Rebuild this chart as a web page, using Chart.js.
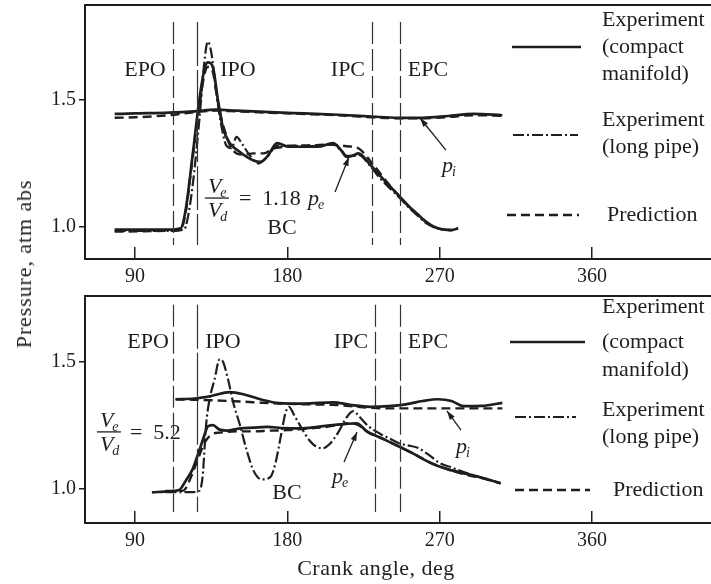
<!DOCTYPE html>
<html><head><meta charset="utf-8">
<script src="https://cdn.jsdelivr.net/npm/chart.js@4.4.1/dist/chart.umd.min.js"></script>
<style>
html,body{margin:0;padding:0;background:#fff;width:711px;height:584px;overflow:hidden;font-family:"Liberation Serif",serif;color:#222}
#c1{position:absolute;left:0;top:0}
#c2{position:absolute;left:0;top:290px}
#ytitle{position:absolute;left:24px;top:264px;transform:translate(-50%,-50%) rotate(-90deg);white-space:nowrap;font-size:22px;letter-spacing:0.9px}
#xtitle{position:absolute;left:376px;top:568px;transform:translate(-50%,-50%);white-space:nowrap;font-size:22px;letter-spacing:0.5px}
</style></head>
<body>
<canvas id="c1" width="711" height="290"></canvas>
<canvas id="c2" width="711" height="294"></canvas>
<div id="ytitle">Pressure, atm abs</div>
<div id="xtitle">Crank angle, deg</div>
<script>
// ---------- data (crank angle in deg, pressure in atm abs) ----------
const xTicks = [90, 180, 270, 360];
const yTicks = [1.0, 1.5];

// Top panel: Ve/Vd = 1.18
const topPiAngles      = [78, 90, 110, 125, 138, 150, 170, 190, 210, 230, 245, 260, 275, 290, 307];
const topPiCompact     = [1.445, 1.447, 1.45, 1.455, 1.462, 1.458, 1.452, 1.447, 1.442, 1.435, 1.43, 1.43, 1.437, 1.445, 1.44];
const topPiPredicted   = [1.43, 1.432, 1.44, 1.452, 1.458, 1.455, 1.45, 1.445, 1.44, 1.432, 1.428, 1.428, 1.433, 1.44, 1.438];

const topPeAngles      = [78, 95, 110, 117, 120, 124, 128, 131, 133, 136, 139, 142, 146, 151, 156, 160, 164, 168, 174, 181, 190, 198, 207, 212, 215, 219, 222, 229, 235, 241, 247, 252, 257, 262, 267, 272, 277, 281];
const topPeCompact     = [0.99, 0.99, 0.99, 0.995, 1.07, 1.28, 1.50, 1.62, 1.648, 1.63, 1.50, 1.39, 1.33, 1.30, 1.276, 1.262, 1.256, 1.276, 1.33, 1.316, 1.316, 1.316, 1.33, 1.30, 1.276, 1.282, 1.29, 1.245, 1.20, 1.158, 1.115, 1.08, 1.05, 1.02, 1.0, 0.99, 0.988, 0.995];
const topPeLongAngles  = [78, 95, 110, 119, 121, 124, 128, 131, 133, 135, 138, 141, 144, 147, 150, 153, 158, 163, 168, 174, 181, 190, 198, 207, 212, 215, 219, 222, 229, 235, 241, 247, 252, 257, 262, 267, 272, 277, 281];
const topPeLongPipe    = [0.985, 0.985, 0.985, 0.99, 1.03, 1.16, 1.42, 1.65, 1.73, 1.69, 1.53, 1.40, 1.32, 1.31, 1.355, 1.33, 1.28, 1.25, 1.275, 1.32, 1.32, 1.318, 1.32, 1.325, 1.30, 1.28, 1.28, 1.285, 1.24, 1.19, 1.15, 1.11, 1.075, 1.045, 1.015, 0.998, 0.99, 0.988, 0.995];
const topPeAnglesPred  = [78, 95, 110, 117, 120, 124, 128, 131, 133, 136, 139, 143, 148, 154, 160, 166, 172, 178, 186, 195, 205, 215, 222, 229, 235, 241, 247, 252, 257, 262, 267, 272, 277];
const topPePredicted   = [0.982, 0.983, 0.985, 0.99, 1.06, 1.27, 1.47, 1.60, 1.63, 1.61, 1.49, 1.38, 1.30, 1.285, 1.29, 1.29, 1.31, 1.315, 1.32, 1.322, 1.325, 1.318, 1.31, 1.26, 1.21, 1.16, 1.115, 1.08, 1.05, 1.02, 1.0, 0.99, 0.988];

// Bottom panel: Ve/Vd = 5.2
const botPiAngles      = [114, 125, 135, 146, 155, 165, 175, 190, 207, 217, 229, 240, 250, 260, 269, 277, 284, 295, 307];
const botPiCompact     = [1.352, 1.355, 1.365, 1.38, 1.37, 1.35, 1.337, 1.335, 1.34, 1.33, 1.322, 1.325, 1.332, 1.345, 1.352, 1.345, 1.325, 1.326, 1.338];
const botPiPredicted   = [1.352, 1.35, 1.348, 1.345, 1.342, 1.338, 1.335, 1.332, 1.33, 1.325, 1.318, 1.316, 1.316, 1.316, 1.316, 1.316, 1.316, 1.316, 1.316];

const botPeAngles      = [100, 110, 116, 120, 124, 128, 131, 133, 136, 140, 145, 152, 160, 168, 178, 188, 198, 207, 215, 221, 227, 235, 246, 255, 265, 275, 286, 296, 306];
const botPeCompact     = [0.984, 0.988, 0.993, 1.03, 1.075, 1.15, 1.21, 1.245, 1.25, 1.232, 1.228, 1.237, 1.24, 1.243, 1.238, 1.237, 1.243, 1.25, 1.255, 1.257, 1.225, 1.2, 1.165, 1.135, 1.099, 1.075, 1.057, 1.04, 1.02];
const botPeLongAngles  = [108, 118, 124, 128, 130, 132, 134, 137, 140, 142, 145, 148, 152, 156, 160, 165, 170, 173, 176, 179, 181, 184, 188, 193, 197, 201, 205, 210, 215, 219, 223, 228, 235, 241, 246, 251, 257, 264, 270, 276, 286, 296, 306];
const botPeLongPipe    = [0.985, 0.985, 0.985, 0.99, 1.05, 1.25, 1.35, 1.43, 1.51, 1.5, 1.43, 1.34, 1.25, 1.15, 1.07, 1.035, 1.045, 1.1, 1.2, 1.3, 1.322, 1.29, 1.243, 1.19, 1.165, 1.158, 1.175, 1.22, 1.28, 1.305, 1.28, 1.245, 1.215, 1.195, 1.178, 1.17, 1.16, 1.13, 1.1, 1.085, 1.06, 1.04, 1.02];
const botPeAnglesPred  = [108, 118, 120, 124, 128, 132, 136, 140, 150, 160, 170, 180, 190, 200, 210, 217, 222, 228, 235, 246, 255, 265, 275, 285, 295, 306];
const botPePredicted   = [0.99, 0.99, 1.0, 1.06, 1.13, 1.19, 1.215, 1.22, 1.225, 1.225, 1.228, 1.23, 1.235, 1.24, 1.25, 1.258, 1.25, 1.22, 1.2, 1.165, 1.135, 1.1, 1.075, 1.055, 1.04, 1.02];

// ---------- helpers ----------
const INK = '#1e1e1e';
const FONT = '"Liberation Serif", "Times New Roman", serif';
function pts(xs, ys) { return xs.map((x, i) => ({ x: x, y: ys[i] })); }
const STYLE = {
  compact: { borderDash: [], borderWidth: 2.7 },
  longpipe: { borderDash: [11, 3, 2, 3], borderWidth: 2.2 },
  predicted: { borderDash: [9, 5], borderWidth: 2.4 }
};
function ds(label, xs, ys, kind) {
  return Object.assign({
    label: label, data: pts(xs, ys), borderColor: INK, backgroundColor: INK,
    pointRadius: 0, fill: false, cubicInterpolationMode: 'monotone'
  }, STYLE[kind]);
}

function arrow(ctx, x1, y1, x2, y2) {
  ctx.save();
  ctx.setLineDash([]);
  ctx.lineWidth = 1.3;
  ctx.strokeStyle = INK; ctx.fillStyle = INK;
  ctx.beginPath(); ctx.moveTo(x1, y1); ctx.lineTo(x2, y2); ctx.stroke();
  const a = Math.atan2(y2 - y1, x2 - x1), L = 9, W = 3;
  ctx.beginPath();
  ctx.moveTo(x2, y2);
  ctx.lineTo(x2 - L * Math.cos(a) + W * Math.sin(a), y2 - L * Math.sin(a) - W * Math.cos(a));
  ctx.lineTo(x2 - L * Math.cos(a) - W * Math.sin(a), y2 - L * Math.sin(a) + W * Math.cos(a));
  ctx.closePath(); ctx.fill();
  ctx.restore();
}
function sub(ctx, main, s, x, y) {
  ctx.font = 'italic 22px ' + FONT;
  ctx.textAlign = 'left'; ctx.textBaseline = 'alphabetic';
  ctx.fillText(main, x, y);
  const w = ctx.measureText(main).width;
  ctx.font = 'italic 14px ' + FONT;
  ctx.fillText(s, x + w - 1, y + 4);
}

function makeAnnot(a) {
  return {
    id: 'annot',
    afterDraw(chart) {
      const ctx = chart.ctx, X = chart.scales.x, Y = chart.scales.y, ca = chart.chartArea;
      const px = v => X.getPixelForValue(v), py = v => Y.getPixelForValue(v);
      ctx.save();
      // top frame line
      ctx.strokeStyle = INK; ctx.lineWidth = 2;
      ctx.beginPath(); ctx.moveTo(ca.left, ca.top); ctx.lineTo(ca.right, ca.top); ctx.stroke();
      // port event lines
      a.markers.forEach(m => {
        ctx.lineWidth = 1.2; ctx.strokeStyle = '#333';
        ctx.setLineDash(m.dash);
        ctx.beginPath(); ctx.moveTo(Math.round(px(m.deg)) + 0.5, py(a.markTop)); ctx.lineTo(Math.round(px(m.deg)) + 0.5, py(a.markBot)); ctx.stroke();
      });
      ctx.setLineDash([]);
      ctx.fillStyle = INK;
      ctx.font = '22px ' + FONT; ctx.textAlign = 'center'; ctx.textBaseline = 'middle';
      a.labels.forEach(l => ctx.fillText(l.t, px(l.deg), py(l.v)));
      // fraction
      const fx = px(a.frac.deg), fy = py(a.frac.v);
      ctx.lineWidth = 1.3; ctx.strokeStyle = INK;
      ctx.beginPath(); ctx.moveTo(fx - 12, fy); ctx.lineTo(fx + 12, fy); ctx.stroke();
      sub(ctx, 'V', 'e', fx - 9, fy - 5);
      sub(ctx, 'V', 'd', fx - 9, fy + 19);
      ctx.font = '22px ' + FONT; ctx.textAlign = 'left'; ctx.textBaseline = 'middle';
      ctx.fillText(a.frac.text, fx + a.frac.gap, fy + 1);
      // p labels
      a.plabels.forEach(p => sub(ctx, 'p', p.s, px(p.deg), py(p.v)));
      a.arrows.forEach(r => arrow(ctx, px(r[0]), py(r[1]), px(r[2]), py(r[3])));
      // legend (sample lines + text)
      const L = a.legend;
      L.samples.forEach(s => {
        ctx.lineWidth = STYLE[s.kind].borderWidth; ctx.strokeStyle = INK;
        ctx.setLineDash(STYLE[s.kind].borderDash);
        ctx.beginPath(); ctx.moveTo(s.x1, s.y); ctx.lineTo(s.x2, s.y); ctx.stroke();
      });
      ctx.setLineDash([]);
      ctx.font = '22px ' + FONT; ctx.textAlign = 'left'; ctx.textBaseline = 'middle';
      L.texts.forEach(t => ctx.fillText(t.t, t.x, t.y));
      ctx.restore();
    }
  };
}

function noPad(s) { s.paddingTop = 0; s.paddingBottom = 0; s.paddingLeft = 0; s.paddingRight = 0; }

function makeChart(id, datasets, ymin, ymax, padTop, xHeight, annot) {
  return new Chart(document.getElementById(id), {
    type: 'line',
    data: { datasets: datasets },
    options: {
      responsive: false, animation: false,
      layout: { padding: { top: padTop, left: 0, right: 0, bottom: 0 } },
      plugins: { legend: { display: false }, tooltip: { enabled: false } },
      scales: {
        x: {
          type: 'linear', position: 'bottom', min: 60.47, max: 430.3,
          afterBuildTicks: s => { s.ticks = xTicks.map(v => ({ value: v })); },
          afterFit: s => { s.height = xHeight; noPad(s); },
          ticks: { color: INK, font: { family: FONT, size: 20 }, padding: 18, maxRotation: 0 },
          grid: { drawOnChartArea: false, drawTicks: true, tickLength: -12, color: INK, lineWidth: 1.5 },
          border: { display: true, color: INK, width: 2 }
        },
        y: {
          type: 'linear', min: ymin, max: ymax,
          afterBuildTicks: s => { s.ticks = yTicks.map(v => ({ value: v })); },
          afterFit: s => { s.width = 85; noPad(s); },
          ticks: { color: INK, font: { family: FONT, size: 20 }, padding: 3, callback: v => v.toFixed(1) },
          grid: { drawOnChartArea: false, drawTicks: true, tickLength: 6, color: INK, lineWidth: 1.5 },
          border: { display: true, color: INK, width: 2 }
        }
      }
    },
    plugins: [makeAnnot(annot)]
  });
}

// ---------- top chart ----------
makeChart('c1', [
  ds('Prediction p_i', topPiAngles, topPiPredicted, 'predicted'),
  ds('Prediction p_e', topPeAnglesPred, topPePredicted, 'predicted'),
  ds('Experiment (long pipe) p_e', topPeLongAngles, topPeLongPipe, 'longpipe'),
  ds('Experiment (compact manifold) p_i', topPiAngles, topPiCompact, 'compact'),
  ds('Experiment (compact manifold) p_e', topPeAngles, topPeCompact, 'compact')
], 0.874, 1.874, 5, 31, {
  markTop: 1.807, markBot: 0.929,
  markers: [{ deg: 112.3, dash: [22, 5] }, { deg: 126.4, dash: [44, 4] }, { deg: 229.8, dash: [22, 5] }, { deg: 246.5, dash: [22, 5] }],
  labels: [{ t: 'EPO', deg: 95.9, v: 1.618 }, { t: 'IPO', deg: 150.8, v: 1.618 }, { t: 'IPC', deg: 215.8, v: 1.618 }, { t: 'EPC', deg: 263.1, v: 1.618 }, { t: 'BC', deg: 176.8, v: 0.996 }],
  frac: { deg: 138.4, v: 1.114, text: '=  1.18', gap: 22 },
  plabels: [{ s: 'e', deg: 192.2, v: 1.087 }, { s: 'i', deg: 271.4, v: 1.217 }],
  arrows: [[208.2, 1.138, 216.4, 1.276], [273.7, 1.303, 258.4, 1.429]],
  legend: {
    samples: [{ kind: 'compact', x1: 512, x2: 581, y: 47 }, { kind: 'longpipe', x1: 513, x2: 578, y: 135 }, { kind: 'predicted', x1: 507, x2: 579, y: 215 }],
    texts: [{ t: 'Experiment', x: 602, y: 20 }, { t: '(compact', x: 602, y: 47 }, { t: 'manifold)', x: 602, y: 74 },
            { t: 'Experiment', x: 602, y: 120 }, { t: '(long pipe)', x: 602, y: 147 }, { t: 'Prediction', x: 607, y: 215 }]
  }
});

// ---------- bottom chart ----------
makeChart('c2', [
  ds('Prediction p_i', botPiAngles, botPiPredicted, 'predicted'),
  ds('Prediction p_e', botPeAnglesPred, botPePredicted, 'predicted'),
  ds('Experiment (long pipe) p_e', botPeLongAngles, botPeLongPipe, 'longpipe'),
  ds('Experiment (compact manifold) p_i', botPiAngles, botPiCompact, 'compact'),
  ds('Experiment (compact manifold) p_e', botPeAngles, botPeCompact, 'compact')
], 0.863, 1.76, 6, 61, {
  markTop: 1.725, markBot: 0.906,
  markers: [{ deg: 112.7, dash: [22, 5] }, { deg: 126.8, dash: [44, 4] }, { deg: 231.8, dash: [22, 5] }, { deg: 246.5, dash: [22, 5] }],
  labels: [{ t: 'EPO', deg: 97.7, v: 1.578 }, { t: 'IPO', deg: 142, v: 1.578 }, { t: 'IPC', deg: 217.6, v: 1.578 }, { t: 'EPC', deg: 263.1, v: 1.578 }, { t: 'BC', deg: 179.8, v: 0.981 }],
  frac: { deg: 74.6, v: 1.223, text: '=  5.2', gap: 21 },
  plabels: [{ s: 'e', deg: 206.4, v: 1.021 }, { s: 'i', deg: 279.6, v: 1.14 }],
  arrows: [[213.5, 1.104, 221.2, 1.223], [282.6, 1.23, 274.3, 1.306]],
  legend: {
    samples: [{ kind: 'compact', x1: 510, x2: 585, y: 52 }, { kind: 'longpipe', x1: 515, x2: 576, y: 127 }, { kind: 'predicted', x1: 515, x2: 590, y: 200 }],
    texts: [{ t: 'Experiment', x: 602, y: 17 }, { t: '(compact', x: 602, y: 52 }, { t: 'manifold)', x: 602, y: 80 },
            { t: 'Experiment', x: 602, y: 120 }, { t: '(long pipe)', x: 602, y: 147 }, { t: 'Prediction', x: 613, y: 200 }]
  }
});
</script>
</body></html>
